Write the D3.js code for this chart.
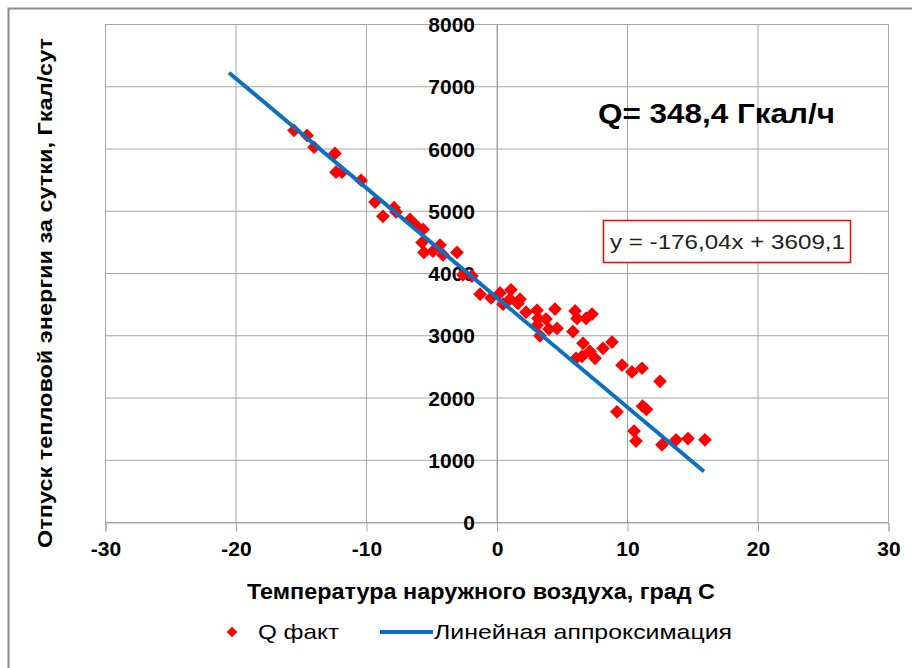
<!DOCTYPE html>
<html><head><meta charset="utf-8">
<script src="https://cdn.jsdelivr.net/npm/d3@7"></script>
<style>body{margin:0;background:#fff}</style>
</head><body>
<svg id="c" width="912" height="668"></svg>
<script>
const tempValues = [-15.52,-14.52,-13.98,-12.38,-12.30,-11.84,-10.38,-9.31,-8.70,-7.85,-7.70,-6.63,-6.25,-5.63,-5.71,-5.56,-4.87,-4.33,-4.10,-3.03,-2.57,-1.88,-1.26,-0.42,0.27,1.11,1.03,1.80,0.50,2.26,3.10,3.18,3.79,3.10,3.33,4.48,4.64,4.02,6.02,6.17,6.86,7.32,5.86,6.63,7.16,7.55,6.09,6.55,8.16,8.85,9.62,10.38,11.15,12.53,9.23,11.19,11.49,10.54,10.69,12.68,13.76,14.67,15.97,1.65];
const qValues = [6290,6210,6020,5920,5620,5620,5490,5140,4910,5050,4980,4860,4780,4700,4490,4330,4350,4450,4290,4330,3970,3950,3660,3600,3680,3730,3580,3580,3500,3370,3400,3270,3260,3160,2990,3420,3110,3100,3390,3270,3270,3340,3060,2870,2740,2630,2630,2660,2790,2890,2520,2410,2470,2260,1770,1860,1810,1460,1300,1240,1320,1340,1320,3510];
const trendX = [-20.5, 15.9];
const slope = -176.04, intercept = 3609.1;
const xTicks = [-30,-20,-10,0,10,20,30];
const yTicks = [0,1000,2000,3000,4000,5000,6000,7000,8000];
const seriesNames = ["Q факт","Линейная аппроксимация"];
const xTitle = "Температура наружного воздуха, град С";
const yTitle = "Отпуск тепловой энергии за сутки, Гкал/сут";
const qText = "Q= 348,4 Гкал/ч";
const eqText = "y = -176,04x + 3609,1";

const FONT = "'Liberation Sans',Arial,sans-serif";
const svg = d3.select("#c");
svg.append("rect").attr("x",8.5).attr("y",8.5).attr("width",920).attr("height",680)
  .attr("fill","#fff").attr("stroke","#8c8c8c").attr("stroke-width",2);

const x = d3.scaleLinear().domain([-30,30]).range([105,888]);
const y = d3.scaleLinear().domain([0,8000]).range([522,24]);

// grid
const g = svg.append("g");
g.selectAll(".vg").data(xTicks).join("line")
  .attr("x1",d=>x(d)+0.5).attr("x2",d=>x(d)+0.5).attr("y1",y(8000)).attr("y2",y(0))
  .attr("stroke","#a6a6a6").attr("stroke-width",1);
g.selectAll(".hg").data(yTicks).join("line")
  .attr("x1",x(-30)).attr("x2",x(30)).attr("y1",d=>y(d)+0.5).attr("y2",d=>y(d)+0.5)
  .attr("stroke","#a6a6a6").attr("stroke-width",1);

// x axis at y=0
const xAxis = d3.axisBottom(x).tickValues(xTicks).tickSize(9).tickFormat(d3.format("d"));
const xa = svg.append("g").attr("transform",`translate(0.5,${y(0)+0.5})`).call(xAxis);
xa.select(".domain").attr("stroke","#a6a6a6");
xa.selectAll(".tick line").attr("stroke","#a6a6a6");
xa.selectAll("text").attr("y",26).attr("dy","0.35em")
  .style("font-family",FONT)
  .style("font-weight","bold").style("font-size","21px").attr("fill","#000")
  .text(d=>d<0?"-"+Math.abs(d):d);

// y axis labels at x=0
const yAxis = d3.axisLeft(y).tickValues(yTicks).tickSize(0).tickPadding(22).tickFormat(d3.format("d"));
const ya = svg.append("g").attr("transform",`translate(${x(0)+0.5},0)`).call(yAxis);
ya.select(".domain").attr("stroke","#a6a6a6");
ya.selectAll("text").style("font-family",FONT)
  .style("font-weight","bold").style("font-size","21px").attr("fill","#000").attr("dy","0.36em");

// points
const diamond = d3.symbol().type(d3.symbolDiamond2).size(120);
svg.append("g").selectAll("path").data(tempValues.map((t,i)=>[t,qValues[i]])).join("path")
  .attr("d",diamond).attr("transform",d=>`translate(${x(d[0])},${y(d[1])})`)
  .attr("fill","#ff0000");

// trend
svg.append("line")
  .attr("x1",x(trendX[0])).attr("y1",y(slope*trendX[0]+intercept))
  .attr("x2",x(trendX[1])).attr("y2",y(slope*trendX[1]+intercept))
  .attr("stroke","#0a70bf").attr("stroke-width",4);

// titles
svg.append("text").attr("x",247).attr("y",591).attr("dy","0.35em")
  .attr("textLength",468).attr("lengthAdjust","spacingAndGlyphs")
  .style("font-family",FONT)
  .style("font-weight","bold").style("font-size","22px").text(xTitle);
svg.append("text").attr("transform","translate(45,548) rotate(-90)").attr("dy","0.35em")
  .attr("textLength",510).attr("lengthAdjust","spacingAndGlyphs")
  .style("font-family",FONT)
  .style("font-weight","bold").style("font-size","20px").text(yTitle);

// annotations
svg.append("text").attr("x",598).attr("y",114).attr("dy","0.35em")
  .attr("textLength",237).attr("lengthAdjust","spacingAndGlyphs")
  .style("font-family",FONT)
  .style("font-weight","bold").style("font-size","27px").text(qText);
svg.append("rect").attr("x",603.5).attr("y",220.5).attr("width",247).attr("height",42)
  .attr("fill","#fff").attr("stroke","#ff0000").attr("stroke-width",1.5);
svg.append("text").attr("x",610).attr("y",242).attr("dy","0.35em")
  .attr("textLength",235).attr("lengthAdjust","spacingAndGlyphs")
  .style("font-family",FONT)
  .style("font-size","20px").attr("fill","#222").text(eqText);

// legend
const lg = svg.append("g");
lg.append("path").attr("d",d3.symbol().type(d3.symbolDiamond2).size(70)).attr("transform","translate(232,632)").attr("fill","#ff0000");
lg.append("text").attr("x",258).attr("y",632).attr("dy","0.35em")
  .attr("textLength",81).attr("lengthAdjust","spacingAndGlyphs")
  .style("font-family",FONT).style("font-size","21px").text(seriesNames[0]);
lg.append("line").attr("x1",380).attr("x2",433).attr("y1",632).attr("y2",632).attr("stroke","#0a70bf").attr("stroke-width",4);
lg.append("text").attr("x",434).attr("y",632).attr("dy","0.35em")
  .attr("textLength",298).attr("lengthAdjust","spacingAndGlyphs")
  .style("font-family",FONT).style("font-size","21px").text(seriesNames[1]);
</script>
</body></html>
